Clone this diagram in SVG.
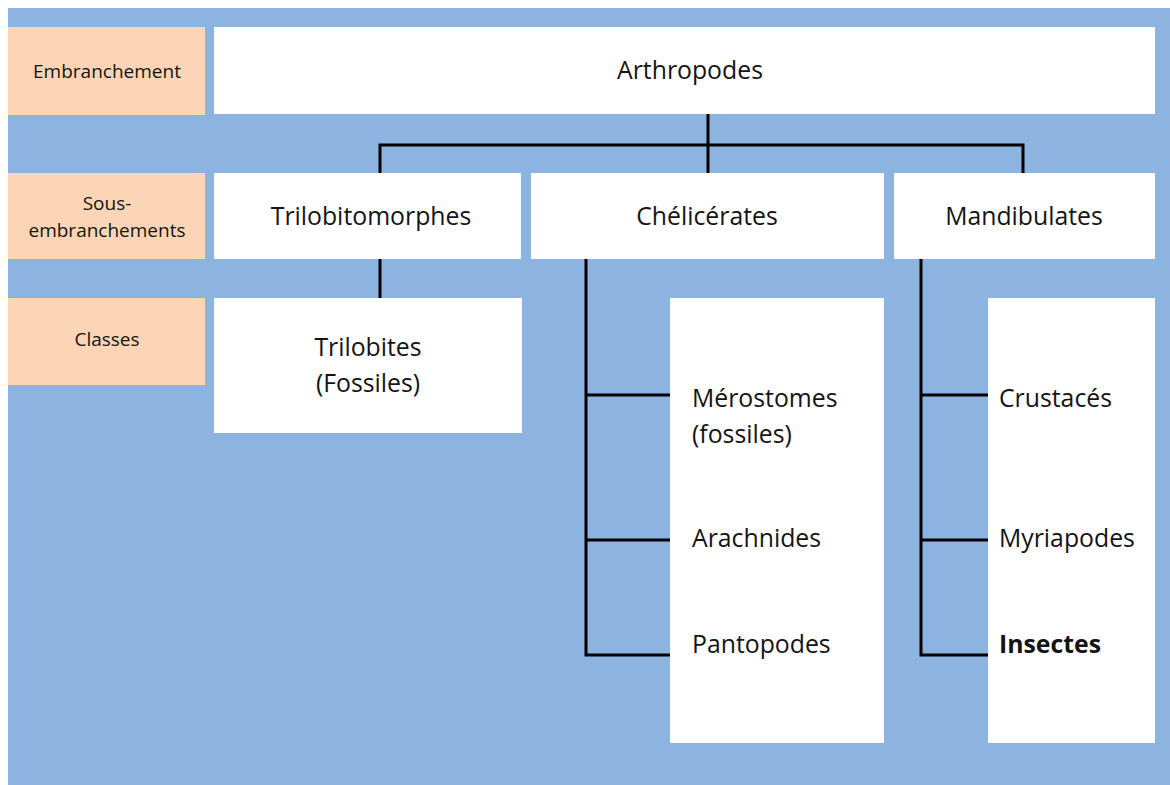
<svg xmlns="http://www.w3.org/2000/svg" width="1170" height="785" viewBox="0 0 1170 785">
<style>
.bg{fill:#8db3e0}
.lab{fill:#fbd5b5}
.box{fill:#ffffff}
.t{font-family:"Open Sans",Lato,sans-serif;fill:#141414}
.big{font-size:24.8px}
.sm{font-size:19px}
.b{font-weight:bold}
.c{stroke:#000;stroke-width:3;fill:none;stroke-linecap:square}
</style>
<rect x="0" y="0" width="1170" height="785" fill="#ffffff"/>
<rect class="bg" x="8" y="8" width="1162" height="777"/>
<g id="lab-embranchement">
<rect class="lab" x="8" y="27" width="197" height="88"/>
<text class="t sm" x="107" y="78" text-anchor="middle">Embranchement</text>
</g>
<g id="lab-sous">
<rect class="lab" x="8" y="173" width="197" height="86"/>
<text class="t sm" x="107" y="210" text-anchor="middle">Sous-</text>
<text class="t sm" x="107" y="237" text-anchor="middle">embranchements</text>
</g>
<g id="lab-classes">
<rect class="lab" x="8" y="298" width="197" height="87"/>
<text class="t sm" x="107" y="346" text-anchor="middle">Classes</text>
</g>
<g id="connectors">
<path class="c" d="M708 114V173M380 173V145H1023V173"/>
<path class="c" d="M380 259V298"/>
<path class="c" d="M586 259V655H670M586 395H670M586 540H670"/>
<path class="c" d="M921 259V655H988M921 395H988M921 540H988"/>
</g>
<g id="arthropodes">
<rect class="box" x="214" y="27" width="941" height="87"/>
<text class="t big" x="690" y="79" text-anchor="middle">Arthropodes</text>
</g>
<g id="trilobitomorphes">
<rect class="box" x="214" y="173" width="307" height="86"/>
<text class="t big" x="371" y="225" text-anchor="middle">Trilobitomorphes</text>
</g>
<g id="chelicerates">
<rect class="box" x="531" y="173" width="353" height="86"/>
<text class="t big" x="707" y="225" text-anchor="middle">Chélicérates</text>
</g>
<g id="mandibulates">
<rect class="box" x="894" y="173" width="261" height="86"/>
<text class="t big" x="1024" y="225" text-anchor="middle">Mandibulates</text>
</g>
<g id="trilobites">
<rect class="box" x="214" y="298" width="308" height="135"/>
<text class="t big" x="368" y="356" text-anchor="middle">Trilobites</text>
<text class="t big" x="368" y="392" text-anchor="middle">(Fossiles)</text>
</g>
<g id="chelicerates-classes">
<rect class="box" x="670" y="298" width="214" height="445"/>
<text class="t big" x="692" y="407">Mérostomes</text>
<text class="t big" x="692" y="443">(fossiles)</text>
<text class="t big" x="692" y="547">Arachnides</text>
<text class="t big" x="692" y="653">Pantopodes</text>
</g>
<g id="mandibulates-classes">
<rect class="box" x="988" y="298" width="167" height="445"/>
<text class="t big" x="999" y="407">Crustacés</text>
<text class="t big" x="999" y="547">Myriapodes</text>
<text class="t big b" x="999" y="653">Insectes</text>
</g>
</svg>
